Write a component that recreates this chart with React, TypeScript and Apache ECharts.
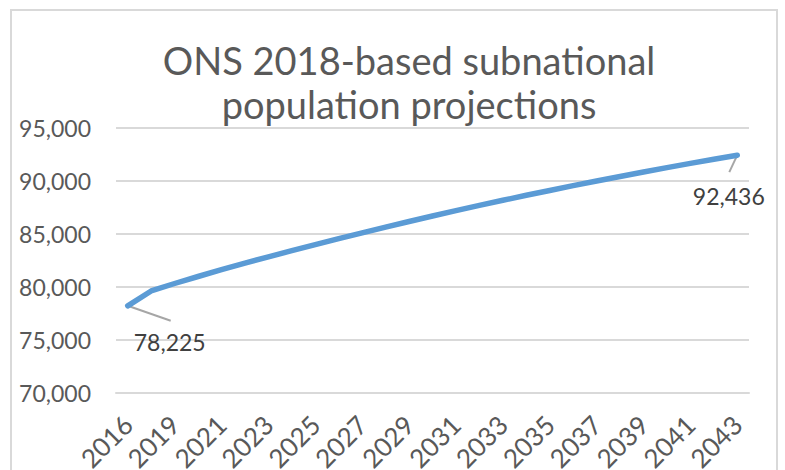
import React, { useEffect, useRef } from "react";
import * as echarts from "echarts";

const titleLines = ["ONS 2018-based subnational", "population projections"];
const years = [
  "2016", "2018", "2019", "2020", "2021", "2022", "2023", "2024", "2025",
  "2026", "2027", "2028", "2029", "2030", "2031", "2032", "2033", "2034",
  "2035", "2036", "2037", "2038", "2039", "2040", "2041", "2042", "2043",
];
const population = [
  78225, 79625, 80330, 80990, 81630, 82250, 82850, 83430, 84000,
  84560, 85110, 85650, 86180, 86700, 87210, 87700, 88180, 88650,
  89110, 89560, 90000, 90430, 90850, 91260, 91660, 92050, 92436,
];
const yMin = 70000;
const yMax = 95000;
const yStep = 5000;

const fmt = (v: number) => v.toLocaleString("en-US");

export default function App() {
  const ref = useRef<HTMLDivElement>(null);
  useEffect(() => {
    if (!ref.current) return;
    const chart = echarts.init(ref.current, null, { renderer: "svg" });
    const last = population.length - 1;
    const frame = {
      id: "frame",
      type: "rect",
      shape: { x: 11, y: 10, width: 766, height: 480 },
      style: { fill: "none", stroke: "#d9d9d9", lineWidth: 2 },
      silent: true,
      z: -1,
    };
    chart.setOption({
      animation: false,
      backgroundColor: "#ffffff",
      textStyle: { fontFamily: "Lato" },
      title: {
        text: titleLines.join("\n"),
        left: 409,
        top: 38,
        padding: 0,
        textAlign: "center",
        textStyle: {
          fontFamily: "Lato",
          fontSize: 38,
          fontWeight: "normal",
          color: "#595959",
          lineHeight: 44,
        },
      },
      graphic: [frame],
      grid: {
        left: 116,
        right: 36,
        top: 128,
        height: 265,
        outerBoundsMode: "none",
        containLabel: false,
      },
      xAxis: {
        type: "category",
        data: years,
        boundaryGap: true,
        axisLine: { lineStyle: { color: "#d9d9d9", width: 2 } },
        axisTick: { show: false },
        axisLabel: {
          interval: 1,
          rotate: 45,
          margin: 27,
          color: "#595959",
          fontSize: 26,
          fontFamily: "Lato",
        },
      },
      yAxis: {
        type: "value",
        min: yMin,
        max: yMax,
        interval: yStep,
        axisLine: { show: false },
        axisTick: { show: false },
        splitLine: { lineStyle: { color: "#d9d9d9", width: 2 } },
        axisLabel: {
          margin: 25,
          color: "#595959",
          fontSize: 23,
          fontFamily: "Lato",
          formatter: (v: number) => fmt(v),
        },
      },
      series: [
        {
          type: "line",
          data: population.map((v, i) => ({
            value: v,
            label: { show: i === 0 || i === last },
          })),
          showSymbol: true,
          symbol: "circle",
          symbolSize: 2,
          lineStyle: { color: "#5b9bd5", width: 5.5, cap: "round", join: "round" },
          itemStyle: { color: "#5b9bd5" },
          label: {
            show: false,
            position: "inside",
            color: "#404040",
            fontSize: 23,
            fontFamily: "Lato",
            formatter: (p: any) => fmt(p.value),
          },
          labelLayout: (p: any) => {
            if (p.dataIndex === 0) return { dx: 42, dy: 36.5 };
            if (p.dataIndex === last) return { dx: -8.5, dy: 40.5 };
            return {};
          },
        },
      ],
    });
    const p0 = chart.convertToPixel({ seriesIndex: 0 }, [0, population[0]]) as number[];
    const pN = chart.convertToPixel({ seriesIndex: 0 }, [last, population[last]]) as number[];
    const leader = (id: string, a: number[], dx: number, dy: number) => ({
      id,
      type: "line",
      shape: { x1: a[0], y1: a[1], x2: a[0] + dx, y2: a[1] + dy },
      style: { stroke: "#a6a6a6", lineWidth: 2 },
      silent: true,
      z: 1,
    });
    chart.setOption({
      graphic: [frame, leader("lead0", p0, 43, 15), leader("leadN", pN, -8, 17)],
    });
    return () => chart.dispose();
  }, []);
  return (
    <div
      ref={ref}
      style={{ position: "fixed", left: 0, top: 0, width: 785, height: 470 }}
    />
  );
}
